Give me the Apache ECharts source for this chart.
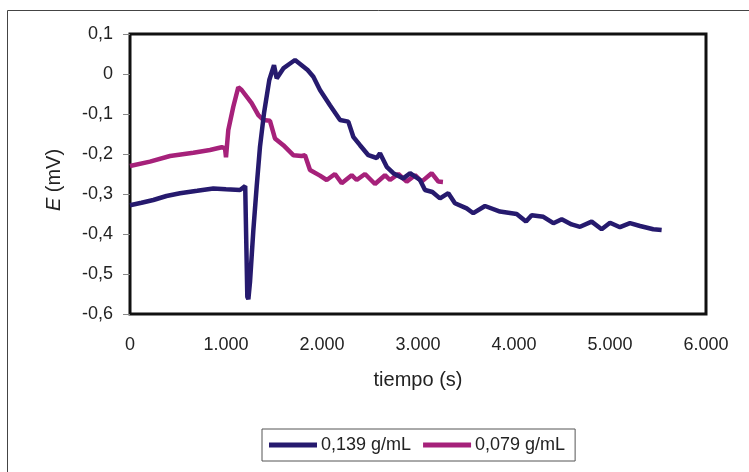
<!DOCTYPE html>
<html>
<head>
<meta charset="utf-8">
<script src="https://cdn.jsdelivr.net/npm/echarts@6/dist/echarts.min.js"></script>
<style>
  html, body { margin: 0; padding: 0; background: #fff; }
  #chart { width: 749px; height: 472px; }
</style>
</head>
<body>
<div id="chart"></div>
<script>
// Potential vs. time for two concentrations
const seriesNames = ['0,139 g/mL', '0,079 g/mL'];
const seriesColors = ['#261a6e', '#a6217a'];

// [tiempo (s), E (mV)]
const conc139 = [
  [0, -0.328], [120, -0.322], [243, -0.315], [380, -0.305], [521, -0.298],
  [700, -0.292], [868, -0.286], [1000, -0.288], [1146, -0.290], [1200, -0.280],
  [1208, -0.278], [1222, -0.557], [1233, -0.563], [1250, -0.520], [1285, -0.390],
  [1320, -0.280], [1354, -0.182], [1396, -0.098], [1451, -0.015], [1500, 0.022],
  [1528, -0.011], [1597, 0.014], [1660, 0.025], [1719, 0.035], [1788, 0.022],
  [1850, 0.010], [1910, -0.007], [1979, -0.040], [2083, -0.078], [2188, -0.115],
  [2274, -0.119], [2326, -0.157], [2396, -0.178], [2483, -0.203], [2570, -0.210],
  [2604, -0.198], [2674, -0.232], [2743, -0.248], [2847, -0.261], [2917, -0.248],
  [3021, -0.265], [3073, -0.290], [3150, -0.295], [3229, -0.311], [3316, -0.298],
  [3385, -0.323], [3507, -0.336], [3576, -0.348], [3698, -0.330], [3854, -0.344],
  [4028, -0.350], [4125, -0.369], [4184, -0.353], [4306, -0.357], [4410, -0.373],
  [4497, -0.363], [4600, -0.376], [4688, -0.382], [4809, -0.369], [4913, -0.388],
  [5000, -0.372], [5104, -0.383], [5208, -0.373], [5313, -0.380], [5451, -0.388],
  [5538, -0.390]
];

const conc079 = [
  [0, -0.230], [208, -0.219], [417, -0.205], [660, -0.197], [833, -0.190],
  [955, -0.183], [990, -0.186], [1000, -0.208], [1024, -0.140], [1076, -0.082],
  [1128, -0.033], [1163, -0.040], [1267, -0.073], [1337, -0.103], [1389, -0.115],
  [1458, -0.117], [1510, -0.161], [1597, -0.178], [1701, -0.203], [1788, -0.205],
  [1823, -0.203], [1875, -0.240], [1979, -0.254], [2049, -0.265], [2135, -0.250],
  [2205, -0.273], [2309, -0.253], [2361, -0.265], [2448, -0.250], [2552, -0.275],
  [2656, -0.253], [2708, -0.265], [2795, -0.250], [2882, -0.269], [2969, -0.253],
  [3038, -0.269], [3142, -0.248], [3212, -0.269], [3260, -0.270]
];

const xTicks = { min: 0, max: 6000, interval: 1000 };
const yTicks = { min: -0.6, max: 0.1, interval: 0.1 };

const fontFamily = '"Liberation Sans", Arial, sans-serif';
const textColor = '#222';

function fmtThousands(v) {
  return String(Math.round(v)).replace(/\B(?=(\d{3})+(?!\d))/g, '.');
}
function fmtDecimal(v) {
  const r = Math.round(v * 10) / 10;
  if (r === 0) return '0';
  return r.toFixed(1).replace('.', ',');
}

const chart = echarts.init(document.getElementById('chart'), null, { renderer: 'canvas' });

chart.setOption({
  backgroundColor: '#fff',
  animation: false,
  graphic: [{
    type: 'rect',
    shape: { x: 7.5, y: 10.5, width: 800, height: 500 },
    style: { fill: 'none', stroke: '#444', lineWidth: 1 },
    silent: true
  }],
  grid: {
    left: 130, right: 43, top: 34, bottom: 158,
    show: true, borderColor: '#111', borderWidth: 3, backgroundColor: '#fff'
  },
  legend: {
    left: 262, top: 429,
    padding: [7, 10, 7, 7],
    borderColor: '#555', borderWidth: 1,
    itemWidth: 48, itemHeight: 5, itemGap: 12,
    icon: 'rect',
    textStyle: { fontFamily, fontSize: 18, color: textColor, padding: [0, 0, 0, -1] },
    data: seriesNames
  },
  xAxis: {
    type: 'value',
    min: xTicks.min, max: xTicks.max, interval: xTicks.interval,
    name: 'tiempo (s)', nameLocation: 'middle', nameGap: 56,
    nameTextStyle: { fontFamily, fontSize: 20, color: textColor },
    axisLine: { show: false },
    axisTick: { show: false },
    splitLine: { show: false },
    axisLabel: { fontFamily, fontSize: 18, color: textColor, margin: 22, formatter: fmtThousands }
  },
  yAxis: {
    type: 'value',
    min: yTicks.min, max: yTicks.max, interval: yTicks.interval,
    name: '{i|E} (mV)', nameLocation: 'middle', nameGap: 66,
    nameTextStyle: {
      fontFamily, fontSize: 20, color: textColor, padding: [0, 12, 0, 0],
      rich: { i: { fontFamily, fontSize: 20, fontStyle: 'italic', color: textColor } }
    },
    axisLine: { show: false },
    axisTick: { show: true, inside: false, length: 7, lineStyle: { color: '#888', width: 1 } },
    splitLine: { show: false },
    axisLabel: { fontFamily, fontSize: 18, color: textColor, margin: 17, formatter: fmtDecimal }
  },
  series: [
    {
      name: seriesNames[0], type: 'line', data: conc139, showSymbol: false,
      color: seriesColors[0], lineStyle: { width: 4.5, color: seriesColors[0] }, z: 3
    },
    {
      name: seriesNames[1], type: 'line', data: conc079, showSymbol: false,
      color: seriesColors[1], lineStyle: { width: 4.5, color: seriesColors[1] }, z: 2
    }
  ]
});
</script>
</body>
</html>
